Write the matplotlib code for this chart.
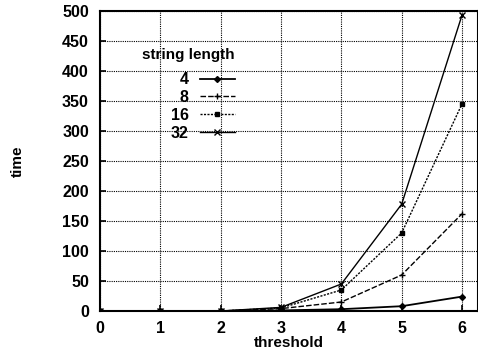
import matplotlib
matplotlib.use("Agg")
import matplotlib.pyplot as plt

plt.rcParams['font.family'] = ['Liberation Sans', 'DejaVu Sans']
plt.rcParams['font.weight'] = 'bold'

threshold = [0, 1, 2, 3, 4, 5, 6]
len4 = [0, 0, 0, 1, 3, 8, 24]
len8 = [0, 0, 0, 4, 15, 60, 162]
len16 = [0, 0, 0, 5, 35, 130, 345]
len32 = [0, 0, 0, 6, 45, 178, 493]
labels = ['4', '8', '16', '32']

fig = plt.figure(figsize=(4.78, 3.54), dpi=100)
ax = fig.add_axes([100 / 478, 43 / 354, 378 / 478, 300 / 354])

ax.plot(threshold, len4, color='black', lw=1.3, marker='D', ms=3, label=labels[0])
ax.plot(threshold, len8, color='black', lw=1.0, ls=(0, (4, 1.5)), marker='+', ms=5, label=labels[1])
ax.plot(threshold, len16, color='black', lw=1.0, ls=(0, (1.5, 1)), marker='s', ms=3.5, label=labels[2])
ax.plot(threshold, len32, color='black', lw=1.0, marker='x', ms=4, label=labels[3])

ax.set_xlim(0, 6 * 378 / 362)
ax.set_ylim(0, 500)
ax.set_xticks(range(0, 7))
ax.set_yticks(range(0, 501, 50))
ax.grid(True, color='black', ls=(0, (1, 1)), lw=0.8)
for s in ax.spines.values():
    s.set_linewidth(1.5)
ax.tick_params(labelsize=11.5, length=4, direction='in', width=1.2)
ax.tick_params(axis='x', pad=7)
ax.tick_params(axis='y', pad=8)
ax.set_xlabel('threshold', fontsize=11, fontweight='bold', labelpad=0)
ax.set_ylabel('time', fontsize=11, fontweight='bold', labelpad=27)

leg = ax.legend(title='string length', loc='upper right', bbox_to_anchor=(0.378, 0.902),
                markerfirst=False, frameon=False, fontsize=11.5, title_fontsize=11,
                handlelength=2.2, labelspacing=0.18, borderpad=0, handletextpad=0.7,
                alignment='right')
leg.get_title().set_fontweight('bold')
leg._legend_box.sep = 7

fig.savefig('out.png', dpi=100)
